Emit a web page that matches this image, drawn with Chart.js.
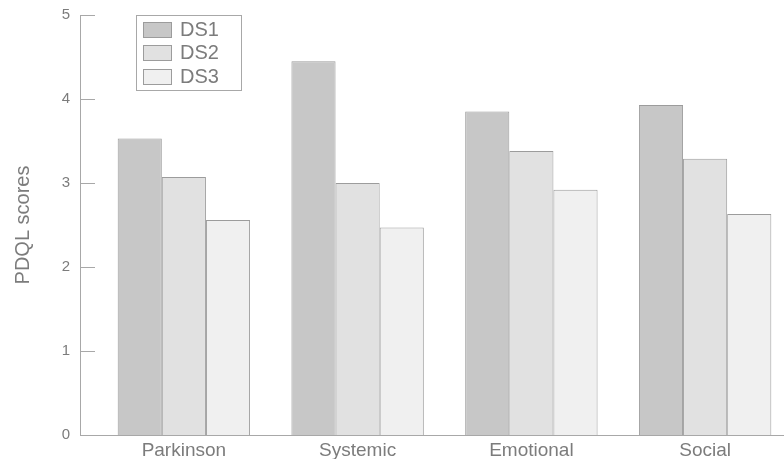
<!DOCTYPE html>
<html>
<head>
<meta charset="utf-8">
<script src="https://cdn.jsdelivr.net/npm/chart.js@4/dist/chart.umd.min.js"></script>
<style>
  html, body { margin: 0; padding: 0; background: #fff; overflow: hidden; }
  canvas { display: block; }
</style>
</head>
<body>
<canvas id="chart" width="792" height="459"></canvas>
<script>
// Data
const categories = ['Parkinson', 'Systemic', 'Emotional', 'Social'];
const seriesNames = ['DS1', 'DS2', 'DS3'];
const ds1 = [3.53, 4.45, 3.85, 3.93];
const ds2 = [3.07, 3.00, 3.38, 3.29];
const ds3 = [2.56, 2.47, 2.92, 2.63];
const yTicks = [0, 1, 2, 3, 4, 5];

const fills = ['#c7c7c7', '#e1e1e1', '#f0f0f0'];
const textGray = '#7c7c7c';
const lineGray = '#a8a8a8';
const fontFamily = '"Liberation Sans", Arial, sans-serif';

// Axis lines with inward ticks, like the original
const axisLines = {
    id: 'axisLines',
    afterDraw(chart) {
        const { ctx, chartArea, scales: { y } } = chart;
        const x0 = chartArea.left - 17;
        const top = y.getPixelForValue(5);
        const bottom = y.getPixelForValue(0);
        ctx.save();
        ctx.strokeStyle = lineGray;
        ctx.lineWidth = 1;
        ctx.beginPath();
        ctx.moveTo(x0 + 0.5, top);
        ctx.lineTo(x0 + 0.5, bottom);
        yTicks.forEach(v => {
            const py = Math.round(y.getPixelForValue(v)) + 0.5;
            ctx.moveTo(x0, py);
            ctx.lineTo(x0 + 15, py);
        });
        ctx.moveTo(x0, Math.round(bottom) + 0.5);
        ctx.lineTo(chart.width, Math.round(bottom) + 0.5);
        ctx.stroke();
        ctx.restore();
    }
};

// Boxed legend in the upper left of the plot
const boxLegend = {
    id: 'boxLegend',
    afterDraw(chart) {
        const ctx = chart.ctx;
        const bx = 136, by = 15, bw = 105, bh = 75;
        ctx.save();
        ctx.strokeStyle = lineGray;
        ctx.lineWidth = 1;
        ctx.fillStyle = '#fff';
        ctx.fillRect(bx, by, bw, bh);
        ctx.strokeRect(bx + 0.5, by + 0.5, bw, bh);
        ctx.font = '20px ' + fontFamily;
        ctx.textBaseline = 'middle';
        chart.data.datasets.forEach((ds, i) => {
            const cy = by + 14 + i * 23.5;
            ctx.fillStyle = ds.backgroundColor;
            ctx.fillRect(143, Math.round(cy - 7.5), 29, 15);
            ctx.strokeStyle = ds.borderColor;
            ctx.strokeRect(143.5, Math.round(cy - 7.5) + 0.5, 28, 15);
            ctx.fillStyle = textGray;
            ctx.fillText(ds.label, 180, cy + 1);
        });
        ctx.restore();
    }
};

const ctx = document.getElementById('chart').getContext('2d');
new Chart(ctx, {
    type: 'bar',
    data: {
        labels: categories,
        datasets: [ds1, ds2, ds3].map((values, i) => ({
            label: seriesNames[i],
            data: values,
            backgroundColor: fills[i],
            borderColor: '#9c9c9c',
            borderWidth: 1,
            categoryPercentage: 0.762,
            barPercentage: 1.0
        }))
    },
    options: {
        responsive: false,
        animation: false,
        layout: { padding: { top: 15, right: 0, bottom: 0, left: 0 } },
        plugins: {
            legend: { display: false },
            tooltip: { enabled: false }
        },
        scales: {
            x: {
                grid: { display: false },
                border: { display: false },
                ticks: {
                    color: textGray,
                    padding: -4,
                    font: { family: fontFamily, size: 19 }
                },
                afterFit: s => {
                    s.height = 24;
                    s.paddingLeft = 0;
                    s.paddingRight = 0;
                    s.paddingTop = 0;
                    s.paddingBottom = 0;
                }
            },
            y: {
                min: 0,
                max: 5,
                afterBuildTicks: s => { s.ticks = yTicks.map(v => ({ value: v })); },
                grid: { display: false },
                border: { display: false },
                ticks: {
                    color: textGray,
                    padding: 19,
                    font: { family: fontFamily, size: 15 }
                },
                title: {
                    display: true,
                    text: 'PDQL scores',
                    color: textGray,
                    padding: { top: 11, bottom: 0 },
                    font: { family: fontFamily, size: 20 }
                },
                afterFit: s => {
                    s.width = 97;
                    s.paddingTop = 0;
                    s.paddingBottom = 0;
                }
            }
        }
    },
    plugins: [axisLines, boxLegend]
});
</script>
</body>
</html>
